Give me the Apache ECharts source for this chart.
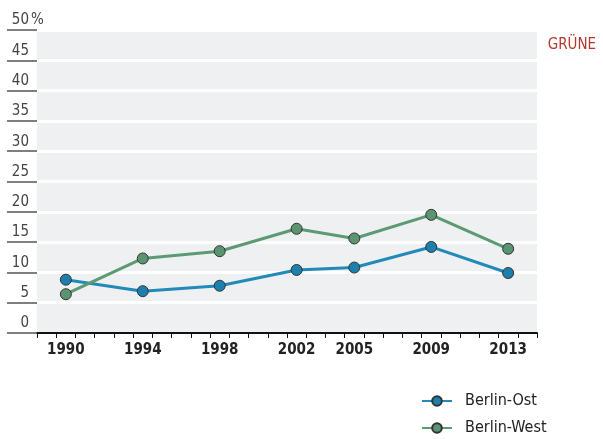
<!DOCTYPE html>
<html><head><meta charset="utf-8">
<script src="https://cdn.jsdelivr.net/npm/echarts@6/dist/echarts.min.js"></script>
<style>html,body{margin:0;padding:0;background:#fff}#c{width:603px;height:439px}</style>
</head><body><div id="c"></div>
<script>
const electionYears = [1990, 1994, 1998, 2002, 2005, 2009, 2013];
const berlinOst = [8.8, 6.9, 7.8, 10.4, 10.8, 14.2, 9.9];
const berlinWest = [6.4, 12.3, 13.5, 17.2, 15.6, 19.5, 13.9];
const yTicks = [0, 5, 10, 15, 20, 25, 30, 35, 40, 45, 50];
const firstYear = 1989, lastYear = 2014;

const FONT = "'Liberation Sans Narrow','DejaVu Sans Condensed',sans-serif";
const years = [];
for (let y = firstYear; y <= lastYear; y++) years.push(String(y));
function toSeries(vals){
  return years.map(y => { const i = electionYears.indexOf(+y); return i >= 0 ? vals[i] : null; });
}
const legendBase = {
  orient: 'vertical', left: 416, itemWidth: 30, itemHeight: 12,
  textStyle: { fontFamily: FONT, fontSize: 16, color: '#222', padding: [0,0,0,8] }
};
const chart = echarts.init(document.getElementById('c'));
chart.setOption({
  animation: false,
  title: { text: 'GRÜNE', right: 2, top: 33, textStyle: { color: '#b2392c', fontFamily: FONT, fontSize: 15, fontWeight: 'normal' } },
  grid: { left: 37, right: 66, top: 30, bottom: 106, show: true, backgroundColor: '#eff0f2', borderWidth: 0 },
  legend: [
    Object.assign({}, legendBase, { top: 388, data: ['Berlin-Ost'] }),
    Object.assign({}, legendBase, { top: 415, data: ['Berlin-West'] })
  ],
  xAxis: {
    type: 'category', data: years, boundaryGap: true,
    axisLine: { lineStyle: { color: '#111', width: 2 } },
    axisTick: { show: true, length: 5, lineStyle: { color: '#111', width: 1 } },
    axisLabel: { interval: 0, margin: 10, fontFamily: FONT, fontSize: 15, fontWeight: 'bold', color: '#222',
      formatter: v => electionYears.indexOf(+v) >= 0 ? v : '' },
    splitLine: { show: false }
  },
  yAxis: {
    type: 'value', min: 0, max: 50, interval: 5,
    axisLine: { show: false },
    axisTick: { show: true, length: 30, lineStyle: { color: '#555', width: 1.5 } },
    axisLabel: { margin: 8, fontFamily: FONT, fontSize: 15, color: '#444', verticalAlign: 'bottom', padding: [0,0,2,0],
      formatter: v => yTicks.indexOf(v) >= 0 ? String(v) : '' },
    splitLine: { show: true, lineStyle: { color: '#ffffff', width: 3 } }
  },
  graphic: [{ type: 'text', left: 31, top: 13, style: { text: '%', fontFamily: FONT, fontSize: 15, fill: '#444' } }],
  series: [
    { name: 'Berlin-Ost', type: 'line', data: toSeries(berlinOst), connectNulls: true,
      symbol: 'circle', symbolSize: 11, lineStyle: { color: '#2289b8', width: 3 },
      itemStyle: { color: '#1d7fae', borderColor: '#333', borderWidth: 1 } },
    { name: 'Berlin-West', type: 'line', data: toSeries(berlinWest), connectNulls: true,
      symbol: 'circle', symbolSize: 11, lineStyle: { color: '#5b9a73', width: 3 },
      itemStyle: { color: '#5a9470', borderColor: '#333', borderWidth: 1 } }
  ]
});
</script></body></html>
